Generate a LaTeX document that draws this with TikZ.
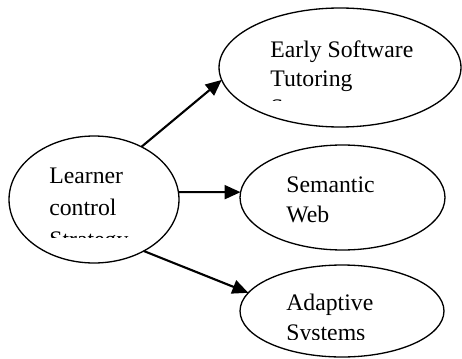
\documentclass[tikz,border=0pt]{standalone}
\usepackage{fontspec}
\setmainfont{Liberation Serif}
\usepackage{tikz}
\usetikzlibrary{arrows.meta,shapes.geometric}
\tikzset{
  ar/.style={-{Triangle[length=3.2mm,width=2.8mm]},line width=1.2pt,black},
  oval/.style={draw,ellipse,line width=0.75pt,inner sep=0pt,outer sep=0pt},
  txt/.style={anchor=base west,inner sep=0pt,font=\fontsize{13.5}{17}\selectfont}
}
\begin{document}
\begin{tikzpicture}[x=0.02cm,y=-0.02cm]
\useasboundingbox (0,0) rectangle (462,358);
% ovals
\node[oval,minimum width=3.4cm,minimum height=2.54cm] (learner) at (94,199.5) {};
\node[oval,minimum width=4.84cm,minimum height=2.38cm] (early) at (340,67.5) {};
\node[oval,minimum width=4.1cm,minimum height=2.1cm] (semantic) at (342.5,197.5) {};
\node[oval,minimum width=4.08cm,minimum height=1.84cm] (adaptive) at (342,311) {};
% texts, cut off at the bottom of their boxes
\begin{scope}
\clip (20,150) rectangle (170,237);
\node[txt] (learner1) at (49,183) {Learner};
\node[txt] (learner2) at (49,215) {control};
\node[txt] (learner3) at (49,247) {Strategy};
\end{scope}
\begin{scope}
\clip (230,20) rectangle (450,100);
\node[txt] (early1) at (270,57) {Early Software};
\node[txt] (early2) at (270,86) {Tutoring};
\node[txt] (early3) at (270,115) {Systems};
\end{scope}
\begin{scope}
\clip (250,160) rectangle (440,232);
\node[txt] (semantic1) at (286,192) {Semantic};
\node[txt] (semantic2) at (286,222) {Web};
\end{scope}
\begin{scope}
\clip (250,280) rectangle (440,339);
\node[txt] (adaptive1) at (286,310) {Adaptive};
\node[txt] (adaptive2) at (286,340) {Systems};
\end{scope}
% arrows
\draw[ar] (learner.48) -- (early.186);
\draw[ar] (learner.5) -- (semantic.177);
\draw[ar] (learner.-46) -- (adaptive.169);
\end{tikzpicture}
\end{document}
